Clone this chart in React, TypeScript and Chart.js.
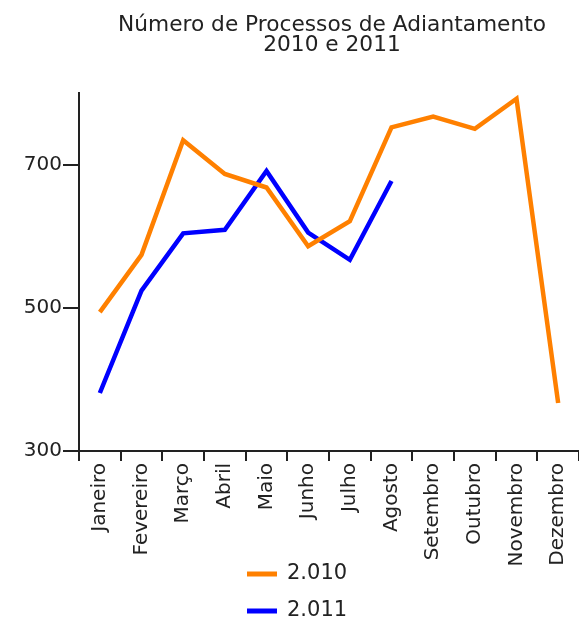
import { useEffect, useRef } from 'react';
import { Chart, registerables } from 'chart.js';

Chart.register(...registerables);

const FONT = '"DejaVu Sans", Verdana, sans-serif';

const titleLines = ['Número de Processos de Adiantamento', '2010 e 2011'];
const months = ['Janeiro', 'Fevereiro', 'Março', 'Abril', 'Maio', 'Junho', 'Julho', 'Agosto', 'Setembro', 'Outubro', 'Novembro', 'Dezembro'];
const seriesNames = ['2.010', '2.011'];
const values2010 = [494, 574, 734, 687, 668, 586, 621, 752, 767, 750, 792, 367];
const values2011 = [381, 524, 604, 609, 691, 605, 567, 677];
const yTicks = [300, 500, 700];
const colors = ['#FF8000', '#0000FF'];

const titlePlugin = {
  id: 'customTitle',
  afterDraw(chart: any) {
    const ctx = chart.ctx;
    const { left, right } = chart.chartArea;
    const cx = (left + right) / 2 + 3;
    ctx.save();
    ctx.font = `21.7px ${FONT}`;
    ctx.fillStyle = '#222';
    ctx.textAlign = 'center';
    ctx.textBaseline = 'alphabetic';
    ctx.fillText(titleLines[0], cx, 31);
    ctx.fillText(titleLines[1], cx, 51);
    ctx.restore();
  },
};

const legendPlugin = {
  id: 'customLegend',
  afterDraw(chart: any) {
    const ctx = chart.ctx;
    ctx.save();
    ctx.font = `21px ${FONT}`;
    ctx.textAlign = 'left';
    ctx.textBaseline = 'middle';
    chart.data.datasets.forEach((ds: any, i: number) => {
      const y = 574 + i * 37;
      ctx.strokeStyle = ds.borderColor;
      ctx.lineWidth = 5;
      ctx.beginPath();
      ctx.moveTo(247, y);
      ctx.lineTo(277, y);
      ctx.stroke();
      ctx.fillStyle = '#222';
      ctx.fillText(ds.label, 287, y);
    });
    ctx.restore();
  },
};

export default function App() {
  const ref = useRef<HTMLCanvasElement | null>(null);
  useEffect(() => {
    if (!ref.current) return;
    const chart = new Chart(ref.current, {
      type: 'line',
      data: {
        labels: months,
        datasets: [
          { label: seriesNames[0], data: values2010, borderColor: colors[0], backgroundColor: colors[0], borderWidth: 4.5, pointRadius: 0, tension: 0 },
          { label: seriesNames[1], data: values2011, borderColor: colors[1], backgroundColor: colors[1], borderWidth: 4.5, pointRadius: 0, tension: 0 },
        ],
      },
      options: {
        responsive: false,
        animation: false,
        devicePixelRatio: 1,
        layout: { padding: { top: 93, left: 0, right: 0, bottom: 0 } },
        plugins: { legend: { display: false }, title: { display: false }, tooltip: { enabled: false } },
        scales: {
          x: {
            offset: true,
            afterFit: (s: any) => { s.height = 170; s.paddingRight = 0; s.paddingLeft = 0; },
            grid: { offset: true, drawOnChartArea: false, drawTicks: true, tickLength: 10, color: '#222', lineWidth: 2 },
            border: { color: '#222', width: 2 },
            ticks: { minRotation: 90, maxRotation: 90, autoSkip: false, padding: 2, font: { family: FONT, size: 20 }, color: '#222' },
          },
          y: {
            min: 300,
            max: 800,
            afterFit: (s: any) => { s.width = 79; s.paddingTop = 0; s.paddingBottom = 0; },
            afterBuildTicks: (s: any) => { s.ticks = yTicks.map((v) => ({ value: v })); },
            grid: { drawOnChartArea: false, drawTicks: true, tickLength: 16, color: '#222', lineWidth: 2 },
            border: { color: '#222', width: 2 },
            ticks: { padding: 1, font: { family: FONT, size: 20 }, color: '#222' },
          },
        },
      },
      plugins: [titlePlugin, legendPlugin],
    });
    return () => chart.destroy();
  }, []);
  return (
    <div style={{ position: 'absolute', left: 0, top: 0, width: 579, height: 621 }}>
      <canvas ref={ref} width={579} height={621} />
    </div>
  );
}
